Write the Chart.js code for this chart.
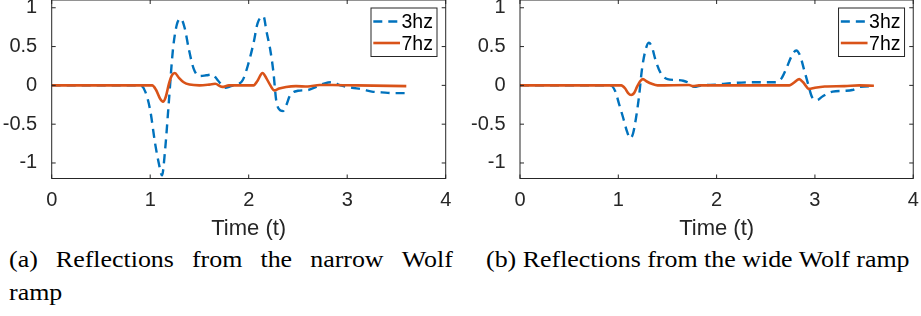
<!DOCTYPE html>
<html>
<head>
<meta charset="utf-8">
<script src="https://cdn.jsdelivr.net/npm/chart.js@4.4.1/dist/chart.umd.min.js"></script>
<style>
  html, body { margin: 0; padding: 0; background: #fff; width: 921px; height: 316px; overflow: hidden; }
  canvas { position: absolute; top: -20px; }
  #narrow { left: 0; }
  #wide { left: 460px; }
  .cap {
    position: absolute;
    font-family: "Liberation Serif", "Times New Roman", serif;
    font-size: 24px;
    line-height: 33px;
    color: #000;
    white-space: nowrap;
    transform: scaleX(1.08);
    transform-origin: 0 0;
  }
  .justify { display: flex; justify-content: space-between; }
</style>
</head>
<body>
<canvas id="narrow" width="460" height="260"></canvas>
<canvas id="wide" width="461" height="260"></canvas>

<div class="cap justify" style="left:9px; top:243px; width:411px;">
  <span>(a)</span><span>Reflections</span><span>from</span><span>the</span><span>narrow</span><span>Wolf</span>
</div>
<div class="cap" style="left:9px; top:276px;">ramp</div>
<div class="cap" style="left:486px; top:243px;">(b) Reflections from the wide Wolf ramp</div>

<script>
// tick labels
const xTicks = [0, 1, 2, 3, 4];
const yTicks = [-1, -0.5, 0, 0.5, 1];

// (a) narrow ramp
const narrowT3 = [0, 0.90, 0.95, 1.00, 1.05, 1.09, 1.12, 1.15, 1.19, 1.23, 1.27, 1.31, 1.35, 1.39, 1.44, 1.50, 1.57, 1.63, 1.69, 1.76, 1.82, 1.90, 1.94, 1.99, 2.05, 2.09, 2.15, 2.18, 2.22, 2.25, 2.28, 2.32, 2.35, 2.38, 2.42, 2.50, 2.60, 2.70, 2.78, 2.85, 2.93, 3.05, 3.15, 3.25, 3.35, 3.47, 3.6];
const narrow3hz = [0, 0, -0.08, -0.32, -0.75, -1.02, -1.16, -0.85, -0.2, 0.45, 0.78, 0.86, 0.74, 0.48, 0.22, 0.12, 0.13, 0.14, 0.06, -0.03, -0.01, 0.02, 0.07, 0.25, 0.55, 0.8, 0.89, 0.7, 0.45, 0.18, -0.2, -0.32, -0.33, -0.26, -0.13, -0.07, -0.06, -0.01, 0.03, 0.04, 0.0, -0.03, -0.05, -0.08, -0.09, -0.1, -0.1];
const narrowT7 = [0, 1.02, 1.06, 1.10, 1.13, 1.16, 1.19, 1.22, 1.25, 1.29, 1.34, 1.40, 1.50, 1.60, 1.66, 1.73, 1.80, 2.05, 2.09, 2.14, 2.18, 2.22, 2.26, 2.31, 2.38, 2.48, 2.60, 2.72, 2.85, 3.1, 3.6];
const narrow7hz = [0, 0, -0.06, -0.17, -0.21, -0.14, 0.02, 0.13, 0.16, 0.1, 0.04, 0.01, 0.0, 0.01, 0.02, -0.02, 0.0, 0.0, 0.06, 0.16, 0.09, 0.0, -0.065, -0.04, -0.02, -0.01, -0.015, 0.005, 0.005, 0.0, -0.01];

// (b) wide ramp
const wideT3 = [0, 0.92, 0.97, 1.01, 1.05, 1.09, 1.12, 1.15, 1.18, 1.21, 1.24, 1.27, 1.31, 1.34, 1.38, 1.43, 1.50, 1.58, 1.66, 1.72, 1.77, 1.85, 2.0, 2.15, 2.35, 2.6, 2.66, 2.71, 2.76, 2.81, 2.85, 2.89, 2.93, 2.97, 3.02, 3.08, 3.18, 3.30, 3.38, 3.46, 3.6];
const wide3hz = [0, 0, -0.08, -0.25, -0.42, -0.6, -0.68, -0.62, -0.42, -0.15, 0.2, 0.42, 0.55, 0.5, 0.32, 0.16, 0.08, 0.07, 0.06, 0.03, -0.02, 0.0, 0.01, 0.03, 0.04, 0.04, 0.09, 0.22, 0.37, 0.45, 0.38, 0.2, 0.02, -0.15, -0.19, -0.14, -0.08, -0.07, -0.06, -0.02, -0.01];
const wideT7 = [0, 1.03, 1.07, 1.10, 1.13, 1.16, 1.19, 1.22, 1.25, 1.29, 1.34, 1.40, 1.72, 1.76, 1.82, 2.74, 2.78, 2.84, 2.88, 2.94, 3.0, 3.1, 3.3, 3.45, 3.6];
const wide7hz = [0, 0, -0.04, -0.1, -0.125, -0.1, -0.02, 0.05, 0.08, 0.05, 0.02, 0.0, 0.005, -0.01, 0.0, 0.0, 0.03, 0.08, 0.04, -0.045, -0.03, -0.015, -0.01, 0.0, -0.005];

const BLUE = '#0072BD';
const ORANGE = '#D95319';
const AXIS = '#262626';
const SANS = '"Liberation Sans", Arial, Helvetica, sans-serif';

const toPoints = (ts, vs) => ts.map((t, i) => ({ x: t, y: vs[i] }));

// box, inward ticks on all four sides, and the boxed legend (MATLAB style)
const matlabAxes = {
    id: 'matlabAxes',
    afterDraw(chart) {
        const { ctx, chartArea: a, scales } = chart;
        ctx.save();
        ctx.strokeStyle = AXIS;
        ctx.lineWidth = 1;
        ctx.strokeRect(a.left, a.top, a.width, a.height);
        ctx.beginPath();
        xTicks.forEach(v => {
            const px = scales.x.getPixelForValue(v);
            ctx.moveTo(px, a.bottom); ctx.lineTo(px, a.bottom - 4);
            ctx.moveTo(px, a.top); ctx.lineTo(px, a.top + 4);
        });
        yTicks.forEach(v => {
            const py = scales.y.getPixelForValue(v);
            ctx.moveTo(a.left, py); ctx.lineTo(a.left + 4, py);
            ctx.moveTo(a.right, py); ctx.lineTo(a.right - 4, py);
        });
        ctx.stroke();

        // legend
        const w = 66, h = 48.5;
        const bx = a.right - 8.7 - w, by = a.top + 8;
        ctx.fillStyle = '#fff';
        ctx.fillRect(bx, by, w, h);
        ctx.strokeRect(bx, by, w, h);
        const rows = [chart.data.datasets[1], chart.data.datasets[0]];
        rows.forEach((ds, i) => {
            const ly = by + 13.5 + i * 21.5;
            ctx.beginPath();
            ctx.strokeStyle = ds.borderColor;
            ctx.lineWidth = ds.borderWidth;
            ctx.setLineDash(ds.borderDash || []);
            ctx.moveTo(bx + 2.3, ly);
            ctx.lineTo(bx + 29, ly);
            ctx.stroke();
            ctx.setLineDash([]);
            ctx.fillStyle = '#000';
            ctx.font = '19.5px ' + SANS;
            ctx.textBaseline = 'middle';
            ctx.textAlign = 'left';
            ctx.fillText(ds.label, bx + 30.5, ly + 1.5);
        });
        ctx.restore();
    }
};

function makeChart(id, t3, v3, t7, v7, yWidth, padRight) {
    const ctx = document.getElementById(id).getContext('2d');
    return new Chart(ctx, {
        type: 'line',
        data: {
            datasets: [
                {
                    label: '7hz',
                    data: toPoints(t7, v7),
                    borderColor: ORANGE,
                    borderWidth: 2.6,
                    pointRadius: 0,
                    cubicInterpolationMode: 'monotone',
                    order: 0
                },
                {
                    label: '3hz',
                    data: toPoints(t3, v3),
                    borderColor: BLUE,
                    borderWidth: 2.4,
                    borderDash: [9, 6],
                    pointRadius: 0,
                    cubicInterpolationMode: 'monotone',
                    order: 1
                }
            ]
        },
        options: {
            responsive: false,
            devicePixelRatio: 1,
            animation: false,
            events: [],
            layout: { padding: { top: 20, right: padRight, bottom: 0, left: 0 } },
            plugins: { legend: { display: false }, tooltip: { enabled: false } },
            scales: {
                x: {
                    type: 'linear',
                    min: 0,
                    max: 4,
                    afterBuildTicks: s => { s.ticks = xTicks.map(v => ({ value: v })); },
                    afterFit: s => { s.height = 61.5; },
                    grid: { display: false },
                    border: { display: false },
                    ticks: {
                        padding: 2.2,
                        color: AXIS,
                        maxRotation: 0,
                        autoSkip: false,
                        font: { family: SANS, size: 20 },
                        callback: v => String(v)
                    },
                    title: {
                        display: true,
                        text: 'Time (t)',
                        color: AXIS,
                        font: { family: SANS, size: 22, lineHeight: 1 },
                        padding: { top: 0, bottom: 0.4 }
                    }
                },
                y: {
                    type: 'linear',
                    min: -1.2,
                    max: 1.1,
                    afterBuildTicks: s => { s.ticks = yTicks.map(v => ({ value: v })); },
                    afterFit: s => { s.width = yWidth; },
                    grid: { display: false },
                    border: { display: false },
                    ticks: {
                        padding: 6.5,
                        color: AXIS,
                        font: { family: SANS, size: 20 },
                        callback: v => String(v)
                    }
                }
            }
        },
        plugins: [matlabAxes]
    });
}

makeChart('narrow', narrowT3, narrow3hz, narrowT7, narrow7hz, 51.7, 14.3);
makeChart('wide', wideT3, wide3hz, wideT7, wide7hz, 60, 6.7);
</script>
</body>
</html>
